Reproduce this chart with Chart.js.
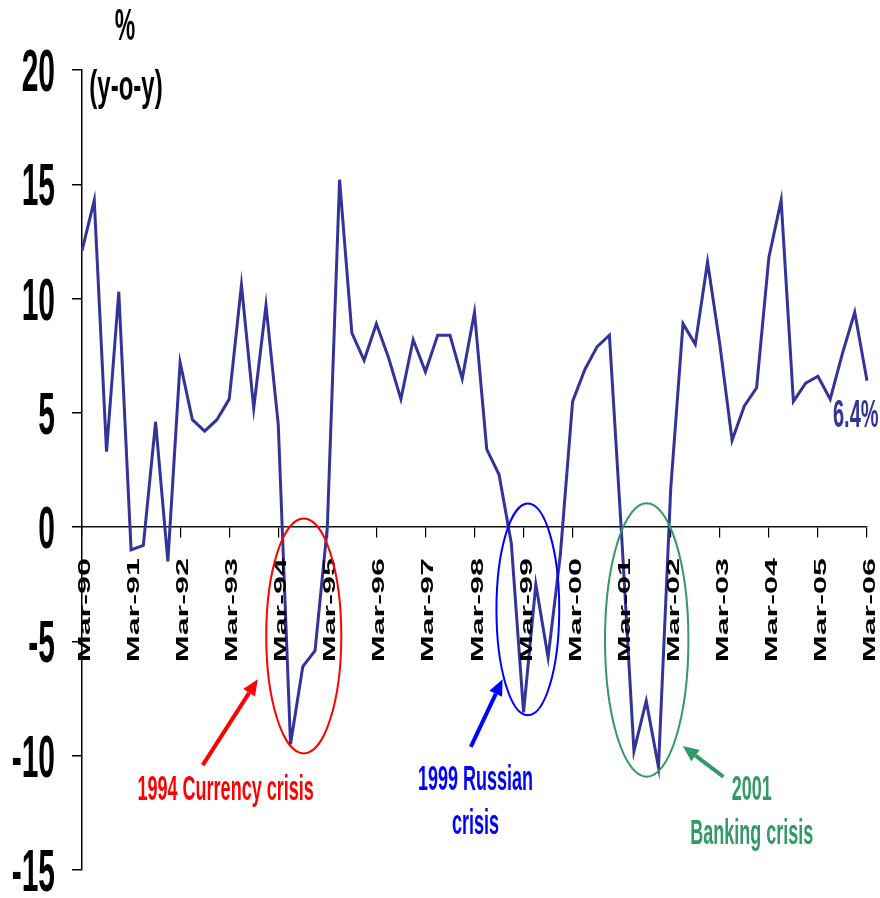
<!DOCTYPE html>
<html>
<head>
<meta charset="utf-8">
<script src="https://cdn.jsdelivr.net/npm/chart.js@4.4.1/dist/chart.umd.min.js"></script>
<style>
  html, body { margin: 0; padding: 0; background: #fff; }
  canvas { display: block; }
</style>
</head>
<body>
<canvas id="chart" width="880" height="898"></canvas>
<script>
// year tick labels, one every 4 quarters
const years = ['90', '91', '92', '93', '94', '95', '96', '97', '98', '99', '00', '01', '02', '03', '04', '05', '06'];
const yearLabels = years.map(y => 'Mar-' + y);

// quarterly categories Mar-90 .. Mar-06
const quarterLabels = [];
years.forEach((y, i) => {
  ['Mar', 'Jun', 'Sep', 'Dec'].forEach(m => {
    if (i < years.length - 1 || m === 'Mar') quarterLabels.push(m + '-' + y);
  });
});

// % y-o-y
const growth = [
  12.1, 14.3, 3.3, 10.3, -1.0, -0.8, 4.6, -1.5,
  7.2, 4.7, 4.2, 4.7, 5.6, 10.6, 5.2, 9.7,
  4.5, -9.5, -6.1, -5.4, 0.0, 15.2, 8.5, 7.3,
  8.9, 7.4, 5.6, 8.2, 6.8, 8.4, 8.4, 6.5,
  9.4, 3.4, 2.3, -0.7, -8.1, -2.5, -5.7, -1.2,
  5.5, 6.9, 7.9, 8.4, -0.4, -9.8, -7.6, -10.5,
  1.7, 8.9, 8.0, 11.6, 8.0, 3.8, 5.3, 6.1,
  11.8, 14.3, 5.5, 6.3, 6.6, 5.6, 7.6, 9.4,
  6.4
];
const lastLabel = '6.4%';

const yMin = -15;
const yMax = 20;
const yStep = 5;

// annotations (positions in quarter index / % units)
const circles = [
  { x: 18.08, y: -4.76, rx: 3.06, ry: 5.14, color: '#ff0000' },
  { x: 36.35, y: -3.6, rx: 2.56, ry: 4.63, color: '#0000ff' },
  { x: 46.04, y: -4.94, rx: 3.4, ry: 5.98, color: '#339966' }
];
const arrows = [
  { from: [9.84, -10.41], to: [14.33, -6.66], color: '#ff0000' },
  { from: [31.7, -9.61], to: [34.29, -6.66], color: '#0000ff' },
  { from: [52.29, -10.92], to: [48.98, -9.57], color: '#339966' }
];
const notes = [
  { lines: ['1994 Currency crisis'], x: 11.71, y: -11.94, color: '#ff0000' },
  { lines: ['1999 Russian', 'crisis'], x: 32.08, y: -11.5, color: '#0000ff' },
  { lines: ['2001', 'Banking crisis'], x: 54.6, y: -11.94, color: '#339966' }
];

const FONT = '"Liberation Sans", Arial, sans-serif';
const STRETCH = 1.9;

function tallText(ctx, text, x, y, size, k, color, align) {
  ctx.save();
  ctx.translate(x, y);
  ctx.scale(1, k);
  ctx.font = 'bold ' + size + 'px ' + FONT;
  ctx.fillStyle = color;
  ctx.textAlign = align;
  ctx.textBaseline = 'alphabetic';
  ctx.fillText(text, 0, 0);
  ctx.restore();
}

function drawArrow(ctx, x1, y1, x2, y2, color) {
  const ang = Math.atan2(y2 - y1, x2 - x1);
  const head = 16, half = 7;
  const bx = x2 - head * Math.cos(ang);
  const by = y2 - head * Math.sin(ang);
  ctx.save();
  ctx.strokeStyle = color;
  ctx.fillStyle = color;
  ctx.lineWidth = 4;
  ctx.beginPath();
  ctx.moveTo(x1, y1);
  ctx.lineTo(bx, by);
  ctx.stroke();
  ctx.beginPath();
  ctx.moveTo(x2, y2);
  ctx.lineTo(bx + half * Math.sin(ang), by - half * Math.cos(ang));
  ctx.lineTo(bx - half * Math.sin(ang), by + half * Math.cos(ang));
  ctx.closePath();
  ctx.fill();
  ctx.restore();
}

const extras = {
  id: 'extras',
  afterDraw(chart) {
    const ctx = chart.ctx;
    const xs = chart.scales.x;
    const ys = chart.scales.y;
    const area = chart.chartArea;
    const px = v => xs.getPixelForValue(v);
    const py = v => ys.getPixelForValue(v);

    // y tick labels
    ys.ticks.forEach(t => {
      tallText(ctx, String(t.value), area.left - 27, py(t.value) + 21, 30, 1.95, '#000', 'right');
    });

    // x tick labels, rotated, hanging under the zero line
    const zeroY = py(0);
    yearLabels.forEach((lab, i) => {
      ctx.save();
      ctx.translate(px(i * 4) + 8, zeroY + 31);
      ctx.rotate(-Math.PI / 2);
      ctx.scale(STRETCH, 1);
      ctx.font = 'bold 17px ' + FONT;
      ctx.fillStyle = '#000';
      ctx.textAlign = 'right';
      ctx.textBaseline = 'alphabetic';
      ctx.fillText(lab, 0, 0);
      ctx.restore();
    });

    // unit label
    tallText(ctx, '%', area.left + 43, 40, 23, STRETCH, '#000', 'center');
    tallText(ctx, '(y-o-y)', area.left + 44, 100, 24, 1.75, '#000', 'center');

    // last value label
    const last = growth.length - 1;
    tallText(ctx, lastLabel, px(last) - 34, py(growth[last]) + 46, 20, STRETCH, '#333399', 'left');

    // crisis circles
    circles.forEach(c => {
      const cx = px(c.x), cy = py(c.y);
      const rx = px(c.x + c.rx) - cx;
      const ry = py(c.y - c.ry) - cy;
      ctx.save();
      ctx.strokeStyle = c.color;
      ctx.lineWidth = 2;
      ctx.beginPath();
      ctx.ellipse(cx, cy, rx, ry, 0, 0, Math.PI * 2);
      ctx.stroke();
      ctx.restore();
    });

    arrows.forEach(a => {
      drawArrow(ctx, px(a.from[0]), py(a.from[1]), px(a.to[0]), py(a.to[1]), a.color);
    });

    notes.forEach(n => {
      n.lines.forEach((line, j) => {
        tallText(ctx, line, px(n.x), py(n.y) + j * 44, 18, STRETCH, n.color, 'center');
      });
    });
  }
};

new Chart(document.getElementById('chart'), {
  type: 'line',
  data: {
    labels: quarterLabels,
    datasets: [{
      data: growth,
      borderColor: '#333399',
      borderWidth: 3,
      pointRadius: 0,
      tension: 0,
      fill: false
    }]
  },
  options: {
    responsive: false,
    animation: false,
    layout: { padding: { left: 72, top: 70, right: 13, bottom: 28 } },
    plugins: {
      legend: { display: false },
      tooltip: { enabled: false }
    },
    scales: {
      x: {
        type: 'category',
        position: { y: 0 },
        ticks: { display: false },
        grid: {
          drawOnChartArea: false,
          drawTicks: true,
          tickLength: 10,
          lineWidth: 1.2,
          color: c => (c.index % 4 === 0 ? '#000' : 'rgba(0,0,0,0)')
        },
        border: { display: true, color: '#111', width: 1.6 }
      },
      y: {
        min: yMin,
        max: yMax,
        ticks: { display: false, stepSize: yStep },
        grid: {
          drawOnChartArea: false,
          drawTicks: true,
          tickLength: 10,
          lineWidth: 1.5,
          color: '#000'
        },
        border: { display: true, color: '#000', width: 1.5 }
      }
    }
  },
  plugins: [extras]
});
</script>
</body>
</html>
